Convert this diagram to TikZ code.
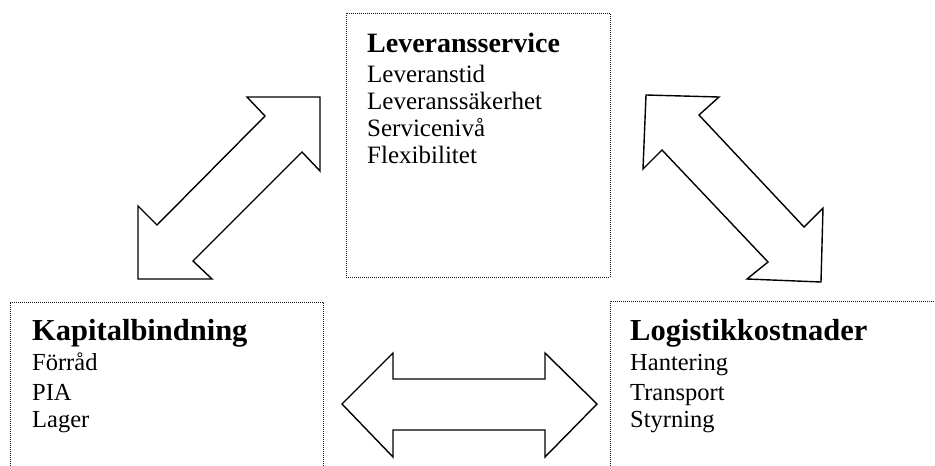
\documentclass[tikz,border=0pt]{standalone}
\usepackage{fontspec}
\setmainfont{Liberation Serif}
\begin{document}
\begin{tikzpicture}[x=1pt,y=-1pt,
  boxline/.style={draw=black!90, line width=0.9pt, dash pattern=on 1pt off 1pt},
  blockarrow/.style={draw=black, line width=1.4pt, line join=miter, fill=white},
  head/.style={anchor=base west, inner sep=0pt, font=\fontsize{28}{30}\selectfont\bfseries},
  bighead/.style={anchor=base west, inner sep=0pt, font=\fontsize{30.5}{32}\selectfont\bfseries},
  item/.style={anchor=base west, inner sep=0pt, font=\fontsize{25}{27}\selectfont},
  smallitem/.style={anchor=base west, inner sep=0pt, font=\fontsize{24.5}{27}\selectfont}]
\useasboundingbox (0,0) rectangle (935,466);
\clip (0,0) rectangle (935,466);
% boxes
\draw[boxline] (346,13) rectangle (610,277);
\draw[boxline] (10,480) -- (10,302) -- (323,302) -- (323,480);
\draw[boxline] (610,480) -- (610,301) -- (950,301);
% top box text
\node[head] (t0) at (367,52) {Leveransservice};
\node[item] (t1) at (367,82) {Leveranstid};
\node[item] (t2) at (367,109) {Leveranssäkerhet};
\node[item] (t3) at (367,136) {Servicenivå};
\node[item] (t4) at (367,163) {Flexibilitet};
% left box text
\node[bighead] (k0) at (32,340) {Kapitalbindning};
\node[smallitem] (k1) at (32,370) {Förråd};
\node[smallitem] (k2) at (32,400) {PIA};
\node[smallitem] (k3) at (32,427) {Lager};
% right box text
\node[bighead] (l0) at (630,340) {Logistikkostnader};
\node[smallitem] (l1) at (630,370) {Hantering};
\node[smallitem] (l2) at (630,400) {Transport};
\node[smallitem] (l3) at (630,427) {Styrning};
% block arrows
\draw[blockarrow] (320,97) -- (247,97) -- (265,116) -- (157,225) -- (138,206)
  -- (138,279) -- (212,279) -- (193,261) -- (302,152) -- (320,171) -- cycle;
\draw[blockarrow] (646,95) -- (719,97) -- (699,115) -- (804,227) -- (823,208)
  -- (821,282) -- (747,279) -- (768,262) -- (662,150) -- (643,169) -- cycle;
\draw[blockarrow] (342,404) -- (393,353) -- (393,379) -- (545,379) -- (545,353)
  -- (597,404) -- (545,457) -- (545,430) -- (393,430) -- (393,457) -- cycle;
\end{tikzpicture}
\end{document}
